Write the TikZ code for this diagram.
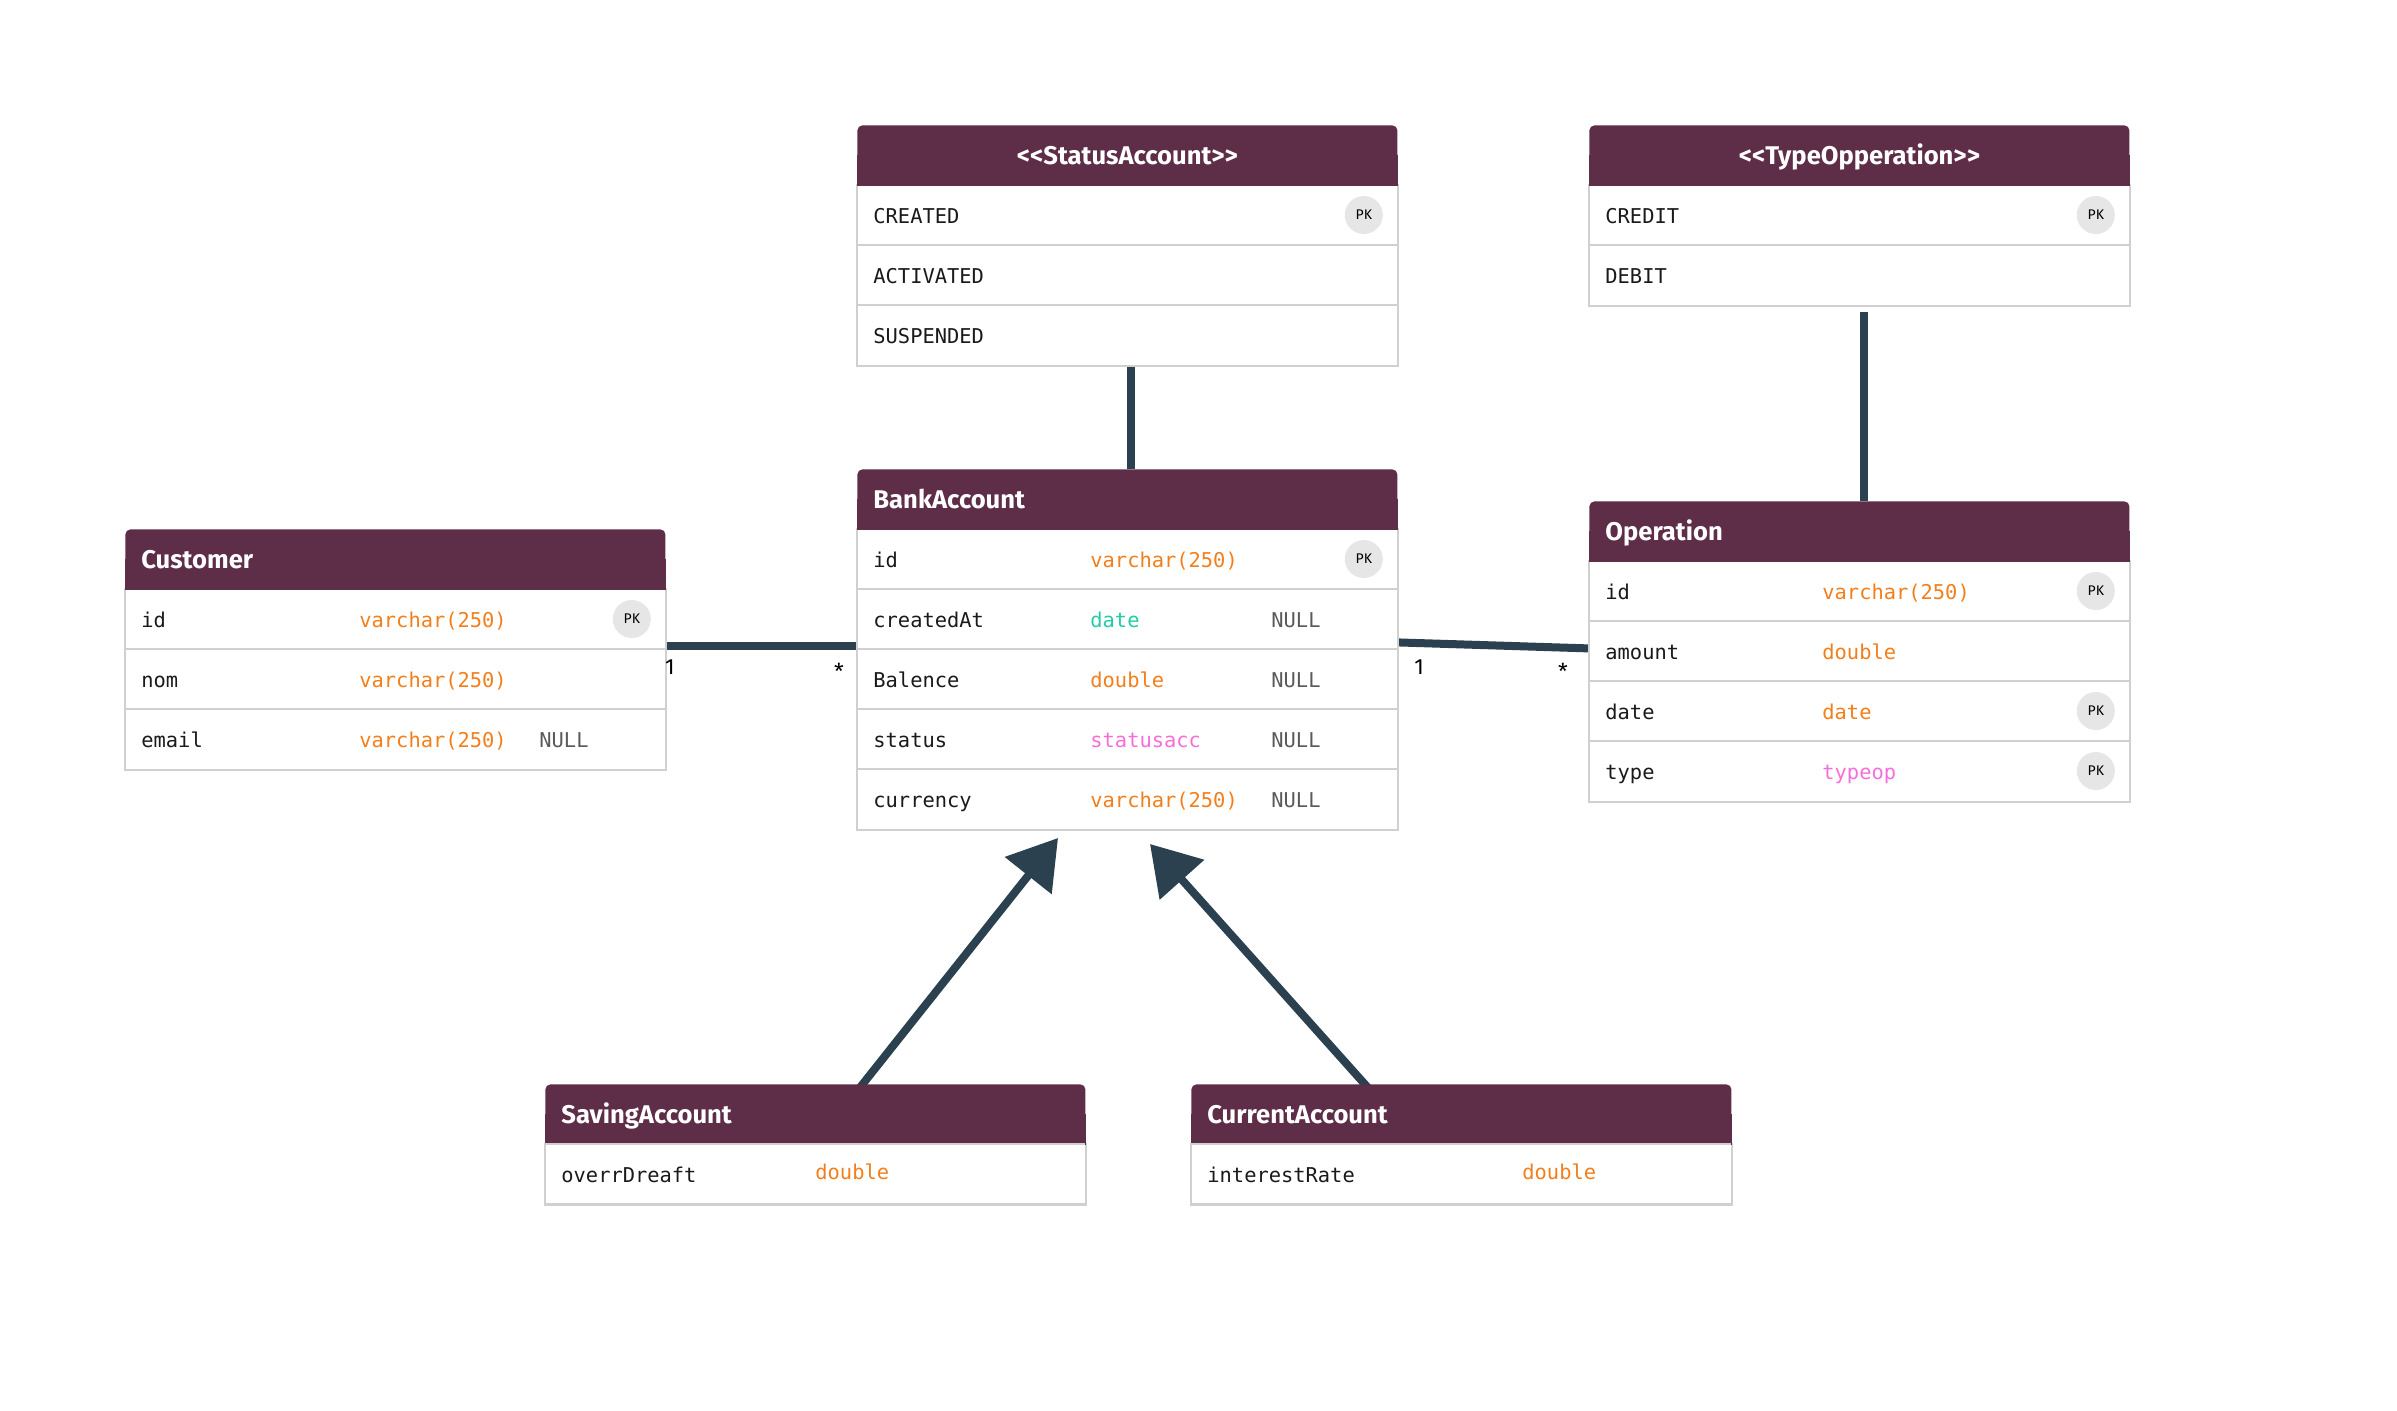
\documentclass[tikz,border=0pt]{standalone}
\usepackage{fontspec}
\setmainfont{Fira Sans}
\setmonofont{DejaVu Sans Mono}
\usetikzlibrary{arrows.meta,calc}
\definecolor{headc}{HTML}{5E2D47}
\definecolor{linec}{HTML}{2C4150}
\definecolor{bordc}{HTML}{D0D0D0}
\definecolor{pkfill}{HTML}{E6E6E6}
\definecolor{namec}{HTML}{1A1A1A}
\definecolor{typeo}{HTML}{F27F1B}
\definecolor{typet}{HTML}{22CCAA}
\definecolor{typep}{HTML}{F76ED9}
\definecolor{nullc}{HTML}{5A5A5A}
\pgfdeclarelayer{bg}
\pgfsetlayers{bg,main}
\tikzset{
  x=0.5pt, y=-0.5pt,
  thead/.style={fill=headc, rounded corners=2.5pt, minimum width=270pt, minimum height=30pt, inner sep=0pt, draw=none},
  tbox/.style={minimum width=270pt, inner sep=0pt, draw=none},
  sep/.style={draw=bordc, line width=0.8pt},
  ttl/.style={text=white, font=\fontsize{12.8}{14}\selectfont\bfseries, inner sep=0pt},
  fname/.style={font=\ttfamily\fontsize{10.2}{12}\selectfont, text=namec, inner sep=0pt},
  pkbadge/.style={circle, fill=pkfill, minimum size=19pt, inner sep=0pt, font=\fontsize{7}{8}\selectfont, text=black},
  conn/.style={draw=linec, line width=4pt},
  inh/.style={conn, -{Triangle[length=24pt,width=29pt]}},
  mult/.style={font=\fontsize{11}{12}\selectfont, text=black, inner sep=0pt},
}
\newcommand\umlbox[4]{% name, x, y, nrows
  \pgfmathsetmacro\boxh{30*(#4+1)}
  \node[tbox, minimum height=\boxh pt, anchor=north west] (#1) at (#2,#3) {};
  \draw[sep, fill=white] ($(#1.north west)+(0,60)$) rectangle (#1.south east);
  \node[thead, anchor=north west] (#1-h) at (#2,#3) {};
  \fill[headc] (#1-h.west) rectangle (#1-h.south east);
  \foreach \i in {2,...,#4} {\draw[sep] ($(#1.north west)+(0,60*\i)$) -- ++(540,0);}
}
\newcommand\umlrow[6]{% box, idx, name, type, colour, type offset
  \node[fname, anchor=base west] (#1-n#2) at ($(#1.north west)+(16,38+60*#2)$) {#3};
  \node[fname, text=#5, anchor=base west] (#1-y#2) at ($(#1.north west)+(#6,38+60*#2)$) {#4};
}
\newcommand\umlenum[3]{% box, idx, name
  \node[fname, anchor=base west] (#1-n#2) at ($(#1.north west)+(16,38+60*#2)$) {#3};
}
\newcommand\umlnull[2]{%
  \node[fname, text=nullc, anchor=base west] (#1-z#2) at ($(#1.north west)+(414,38+60*#2)$) {NULL};
}
\newcommand\umlpk[2]{%
  \node[pkbadge] (#1-k#2) at ($(#1.north east)+(-34,30+60*#2)$) {PK};
}
\begin{document}
\begin{tikzpicture}
\useasboundingbox (0,0) rectangle (2397,1410);
\begin{pgfonlayer}{bg}
\fill[white] (0,0) rectangle (2397,1410);
\end{pgfonlayer}

% Customer
\umlbox{cust}{125}{529}{3}
\node[ttl, anchor=base west] (cust-t) at ($(cust.north west)+(16,39)$) {Customer};
\umlrow{cust}{1}{id}{varchar(250)}{typeo}{234}\umlpk{cust}{1}
\umlrow{cust}{2}{nom}{varchar(250)}{typeo}{234}
\umlrow{cust}{3}{email}{varchar(250)}{typeo}{234}\umlnull{cust}{3}

% StatusAccount
\umlbox{stat}{857}{125}{3}
\node[ttl, anchor=base] (stat-t) at ($(stat.north)+(0,39)$) {<\kern0pt<StatusAccount>\kern0pt>};
\umlenum{stat}{1}{CREATED}\umlpk{stat}{1}
\umlenum{stat}{2}{ACTIVATED}
\umlenum{stat}{3}{SUSPENDED}

% TypeOpperation
\umlbox{typ}{1589}{125}{2}
\node[ttl, anchor=base] (typ-t) at ($(typ.north)+(0,39)$) {<\kern0pt<TypeOpperation>\kern0pt>};
\umlenum{typ}{1}{CREDIT}\umlpk{typ}{1}
\umlenum{typ}{2}{DEBIT}

% BankAccount
\umlbox{bank}{857}{469}{5}
\node[ttl, anchor=base west] (bank-t) at ($(bank.north west)+(16,39)$) {BankAccount};
\umlrow{bank}{1}{id}{varchar(250)}{typeo}{233}\umlpk{bank}{1}
\umlrow{bank}{2}{createdAt}{date}{typet}{233}\umlnull{bank}{2}
\umlrow{bank}{3}{Balence}{double}{typeo}{233}\umlnull{bank}{3}
\umlrow{bank}{4}{status}{statusacc}{typep}{233}\umlnull{bank}{4}
\umlrow{bank}{5}{currency}{varchar(250)}{typeo}{233}\umlnull{bank}{5}

% Operation
\umlbox{op}{1589}{501}{4}
\node[ttl, anchor=base west] (op-t) at ($(op.north west)+(16,39)$) {Operation};
\umlrow{op}{1}{id}{varchar(250)}{typeo}{233}\umlpk{op}{1}
\umlrow{op}{2}{amount}{double}{typeo}{233}
\umlrow{op}{3}{date}{date}{typeo}{233}\umlpk{op}{3}
\umlrow{op}{4}{type}{typeop}{typep}{233}\umlpk{op}{4}

% SavingAccount
\umlbox{sav}{545}{1084}{1}
\node[ttl, anchor=base west] (sav-t) at ($(sav.north west)+(16,39)$) {SavingAccount};
\node[fname, anchor=base west] (sav-n1) at ($(sav.north west)+(16,98)$) {overrDreaft};
\node[fname, text=typeo, anchor=base west] (sav-y1) at ($(sav.north west)+(270,95)$) {double};

% CurrentAccount
\umlbox{cur}{1191}{1084}{1}
\node[ttl, anchor=base west] (cur-t) at ($(cur.north west)+(16,39)$) {CurrentAccount};
\node[fname, anchor=base west] (cur-n1) at ($(cur.north west)+(16,98)$) {interestRate};
\node[fname, text=typeo, anchor=base west] (cur-y1) at ($(cur.north west)+(331,95)$) {double};

% connectors
\coordinate (tipL) at (1058,838);
\coordinate (tipR) at (1150,844);
\begin{pgfonlayer}{bg}
\draw[conn] ($(stat.south)+(4,0)$) -- ($(bank.north)+(4,0)$);
\draw[conn] ($(typ.south)+(5,6)$) -- ($(op.north)+(5,0)$);
\draw[conn] ($(cust.east)+(0,-3)$) -- ($(bank.west)+(0,-3)$);
\draw[conn] ($(bank.east)+(0,-7)$) -- ($(op.west)+(0,-3)$);
\draw[inh] ($(sav.north west)+(313,6)$) -- (tipL);
\draw[inh] ($(cur.north west)+(179,6)$) -- (tipR);
\end{pgfonlayer}

\node[mult] (m1) at (670,667) {1};
\node[mult] (m2) at (839,671) {*};
\node[mult] (m3) at (1419,667) {1};
\node[mult] (m4) at (1563,671) {*};
\end{tikzpicture}
\end{document}
